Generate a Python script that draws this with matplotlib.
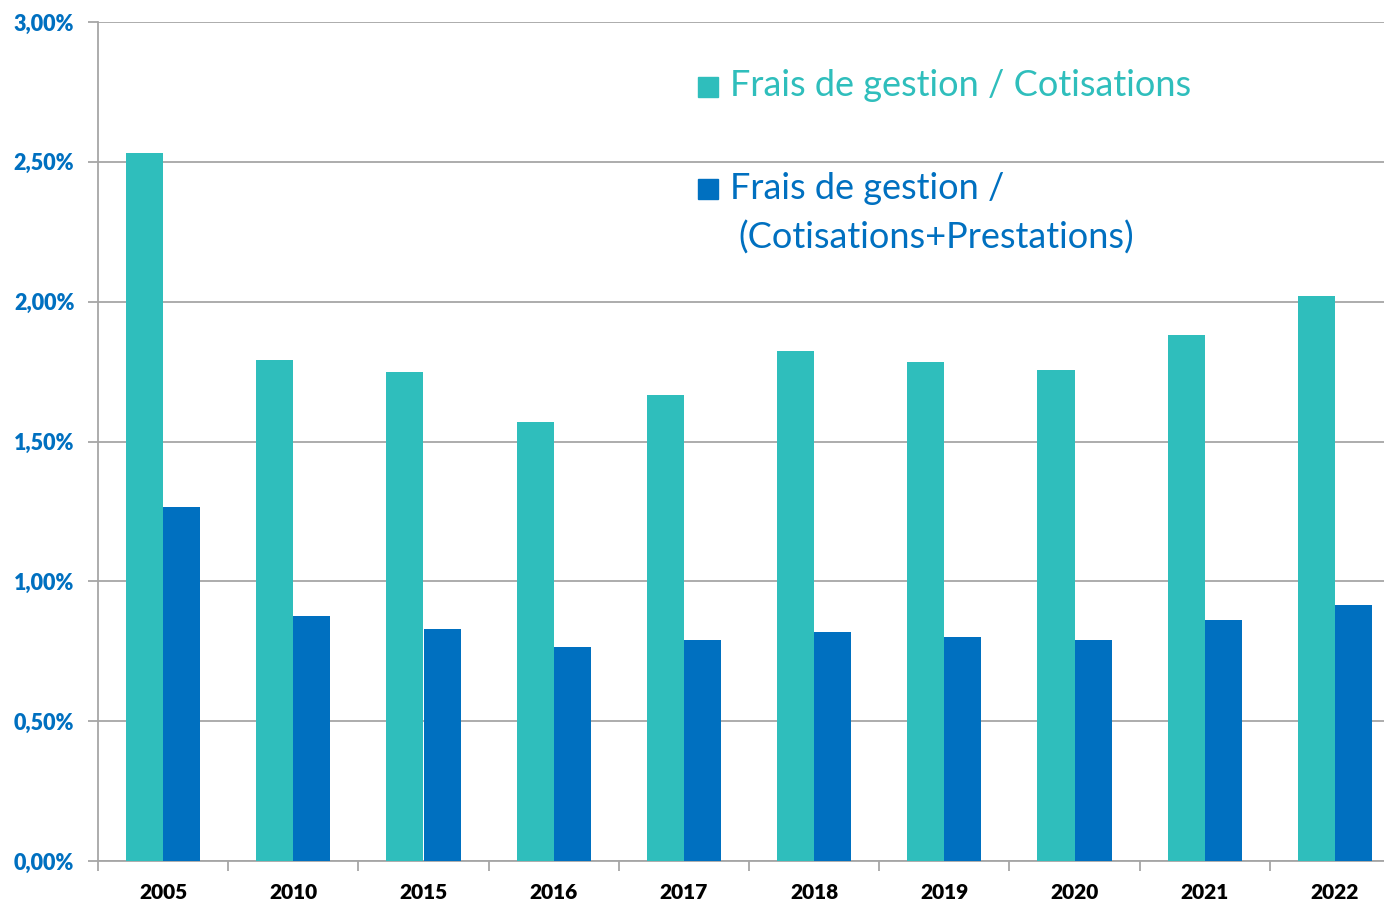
import numpy as np
import matplotlib
matplotlib.use("Agg")
from matplotlib import pyplot as plt
from matplotlib.patches import Rectangle

# data (in %)
years = ["2005", "2010", "2015", "2016", "2017", "2018", "2019", "2020", "2021", "2022"]
frais_cotis = [2.53, 1.79, 1.75, 1.57, 1.665, 1.825, 1.785, 1.755, 1.88, 2.02]
frais_cotis_prest = [1.265, 0.875, 0.83, 0.765, 0.79, 0.82, 0.80, 0.79, 0.86, 0.915]

teal = "#2FBEBC"
blue = "#0070C0"
grey = "#A6A6A6"

plt.rcParams['font.family'] = ['Lato', 'DejaVu Sans']

fig = plt.figure(figsize=(13.84, 9.02), dpi=100)
W, H = 1384, 902
ax = fig.add_axes([98 / W, 1 - 861 / H, 1302 / W, (861 - 22) / H])

x = np.arange(len(years))
w = 0.285
ax.bar(x - w / 2, frais_cotis, width=w, color=teal, zorder=3)
ax.bar(x + w / 2, frais_cotis_prest, width=w, color=blue, zorder=3)

ax.set_xlim(-0.5, len(years) - 0.5)
ax.set_ylim(0, 3.0)
yt = np.arange(0, 3.01, 0.5)
ax.set_yticks(yt)
ax.set_yticklabels([f"{v:.2f}%".replace(".", ",") for v in yt],
                   color=blue, fontweight="heavy", fontsize=15.5)
ax.yaxis.grid(True, color=grey, linewidth=1.3, zorder=0)
ax.tick_params(axis="y", length=7, width=1.3, color=grey, pad=10)

ax.set_xticks(x)
ax.set_xticklabels(years, fontweight="heavy", fontsize=15, color="black")
ax.set_xticks(np.arange(-0.5, len(years)), minor=True)
ax.tick_params(axis="x", which="major", length=0, pad=16)
ax.tick_params(axis="x", which="minor", length=7, width=1.3, color=grey)

for s in ["top", "right"]:
    ax.spines[s].set_visible(False)
for s in ["left", "bottom"]:
    ax.spines[s].set_color(grey)
    ax.spines[s].set_linewidth(1.3)

# legend drawn by hand, like the Excel one
fig.patches.append(Rectangle((698 / W, 1 - 97 / H), 20 / W, 20 / H,
                             transform=fig.transFigure, color=teal))
fig.text(730 / W, 1 - 86 / H, "Frais de gestion / Cotisations",
         color=teal, fontsize=26, va="center", ha="left")
fig.patches.append(Rectangle((698 / W, 1 - 199 / H), 20 / W, 20 / H,
                             transform=fig.transFigure, color=blue))
fig.text(730 / W, 1 - 188 / H, "Frais de gestion /",
         color=blue, fontsize=26, va="center", ha="left")
fig.text(738 / W, 1 - 238 / H, "(Cotisations+Prestations)",
         color=blue, fontsize=26, va="center", ha="left")

fig.savefig("out.png", dpi=100)
